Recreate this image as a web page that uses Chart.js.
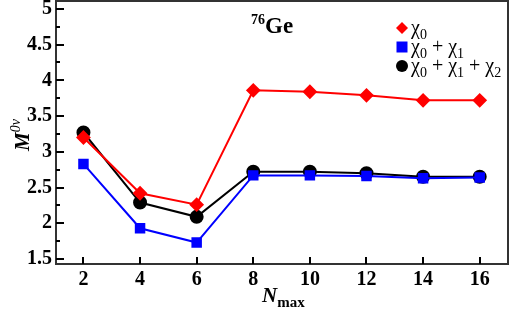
<!DOCTYPE html>
<html><head><meta charset="utf-8">
<script src="https://cdn.jsdelivr.net/npm/chart.js@4.4.0/dist/chart.umd.min.js"></script>
<style>html,body{margin:0;padding:0;background:#fff;}</style>
</head>
<body>
<canvas id="myChart" width="510" height="310"></canvas>
<script>
// N_max values and the three curves
var nmax = [2, 4, 6, 8, 10, 12, 14, 16];
var chi0 = [3.20, 2.42, 2.26, 3.86, 3.84, 3.79, 3.72, 3.72];
var chi01 = [2.83, 1.93, 1.73, 2.67, 2.67, 2.66, 2.63, 2.64];
var chi012 = [3.27, 2.29, 2.09, 2.72, 2.72, 2.70, 2.65, 2.65];
var xTicks = [2, 4, 6, 8, 10, 12, 14, 16];
var yTicks = [1.5, 2, 2.5, 3, 3.5, 4, 4.5, 5];
var yMinor = [1.75, 2.25, 2.75, 3.25, 3.75, 4.25, 4.75];

function pts(ys) { return nmax.map(function (x, i) { return {x: x, y: ys[i]}; }); }

var SERIF = '"Liberation Serif", "DejaVu Serif", serif';

// draws text pieces: [text, font, dy]
function runs(ctx, x, y, parts) {
  parts.forEach(function (p) {
    ctx.font = p[1];
    ctx.fillText(p[0], x, y + (p[2] || 0));
    x += ctx.measureText(p[0]).width;
  });
  return x;
}

var decor = {
  id: 'decor',
  afterDraw: function (chart) {
    var ctx = chart.ctx, a = chart.chartArea;
    var xs = chart.scales.x, ys = chart.scales.y;
    ctx.save();
    // frame
    ctx.strokeStyle = '#333';
    ctx.lineWidth = 2;
    ctx.strokeRect(a.left, a.top, a.right - a.left, a.bottom - a.top);
    // inner ticks
    ctx.strokeStyle = '#000';
    ctx.beginPath();
    yTicks.forEach(function (v) {
      var py = Math.round(ys.getPixelForValue(v));
      ctx.moveTo(a.left, py); ctx.lineTo(a.left + 8, py);
    });
    yMinor.forEach(function (v) {
      var py = Math.round(ys.getPixelForValue(v));
      ctx.moveTo(a.left, py); ctx.lineTo(a.left + 4, py);
    });
    xTicks.forEach(function (v) {
      var px = Math.round(xs.getPixelForValue(v));
      ctx.moveTo(px, a.bottom); ctx.lineTo(px, a.bottom - 7);
    });
    ctx.stroke();

    ctx.fillStyle = '#000';
    ctx.textBaseline = 'alphabetic';
    ctx.textAlign = 'left';
    // title 76Ge
    runs(ctx, 251, 33, [['76', 'bold 14px ' + SERIF, -9], ['Ge', 'bold 23px ' + SERIF, 0]]);

    // x title
    runs(ctx, 262, 302, [['N', 'italic bold 21px ' + SERIF, 0], ['max', 'bold 15px ' + SERIF, 5]]);

    // y title
    ctx.save();
    ctx.translate(29, 151);
    ctx.rotate(-Math.PI / 2);
    runs(ctx, 0, 0, [['M', 'italic bold 21px ' + SERIF, 0], ['0\u03bd', 'italic 14px ' + SERIF, -9]]);
    ctx.restore();

    // legend
    var rows = [
      {c: '#ff0000', s: 'diamond', t: [['\u03c7', 0], ['0', 1]]},
      {c: '#0000ff', s: 'square', t: [['\u03c7', 0], ['0', 1], [' + \u03c7', 0], ['1', 1]]},
      {c: '#000000', s: 'circle', t: [['\u03c7', 0], ['0', 1], [' + \u03c7', 0], ['1', 1], [' + \u03c7', 0], ['2', 1]]}
    ];
    rows.forEach(function (r, i) {
      var cy = 28 + i * 19;
      var mx = 402;
      ctx.fillStyle = r.c;
      ctx.beginPath();
      if (r.s === 'diamond') {
        ctx.moveTo(mx, cy - 6); ctx.lineTo(mx + 6, cy); ctx.lineTo(mx, cy + 6); ctx.lineTo(mx - 6, cy);
        ctx.closePath();
      } else if (r.s === 'square') {
        ctx.rect(mx - 5.5, cy - 5.5, 11, 11);
      } else {
        ctx.arc(mx, cy, 6, 0, Math.PI * 2);
      }
      ctx.fill();
      ctx.fillStyle = '#000';
      var x = 411;
      r.t.forEach(function (p) {
        if (p[1]) {
          ctx.font = '14px ' + SERIF;
          ctx.fillText(p[0], x, cy + 11);
        } else {
          ctx.font = '20px ' + SERIF;
          ctx.fillText(p[0], x, cy + 6);
        }
        x += ctx.measureText(p[0]).width;
      });
    });
    ctx.restore();
  }
};

var ctx = document.getElementById('myChart');
var myChart = new Chart(ctx, {
  type: 'line',
  data: {
    datasets: [
      {label: 'chi0', data: pts(chi0), borderColor: '#ff0000', backgroundColor: '#ff0000',
       pointStyle: 'rectRot', pointRadius: 6, borderWidth: 2, order: 0},
      {label: 'chi0+chi1', data: pts(chi01), borderColor: '#0000ff', backgroundColor: '#0000ff',
       pointStyle: 'rect', pointRadius: 6, borderWidth: 2, order: 1},
      {label: 'chi0+chi1+chi2', data: pts(chi012), borderColor: '#000000', backgroundColor: '#000000',
       pointStyle: 'circle', pointRadius: 6, borderWidth: 2, order: 2}
    ]
  },
  options: {
    responsive: false,
    animation: false,
    layout: {autoPadding: false, padding: {top: 1, right: 2, left: 0, bottom: 0}},
    plugins: {legend: {display: false}, tooltip: {enabled: false}},
    elements: {line: {tension: 0}, point: {borderWidth: 0}},
    scales: {
      x: {
        type: 'linear', min: 1.03, max: 17.0,
        grid: {display: false, drawTicks: false},
        border: {display: false},
        afterBuildTicks: function (s) { s.ticks = xTicks.map(function (v) { return {value: v}; }); },
        afterFit: function (s) { s.height = 46; s.paddingLeft = 0; s.paddingRight = 0; },
        ticks: {color: '#000', padding: 4, maxRotation: 0,
                font: {family: SERIF, weight: 'bold', size: 20}}
      },
      y: {
        min: 1.43, max: 5.11,
        grid: {display: false, drawTicks: false},
        border: {display: false},
        afterBuildTicks: function (s) { s.ticks = yTicks.map(function (v) { return {value: v}; }); },
        afterFit: function (s) { s.width = 56; s.paddingTop = 0; s.paddingBottom = 0; },
        ticks: {color: '#000', padding: 4,
                callback: function (v) { return String(v); },
                font: {family: SERIF, weight: 'bold', size: 20}}
      }
    }
  },
  plugins: [decor]
});
</script>
</body></html>
